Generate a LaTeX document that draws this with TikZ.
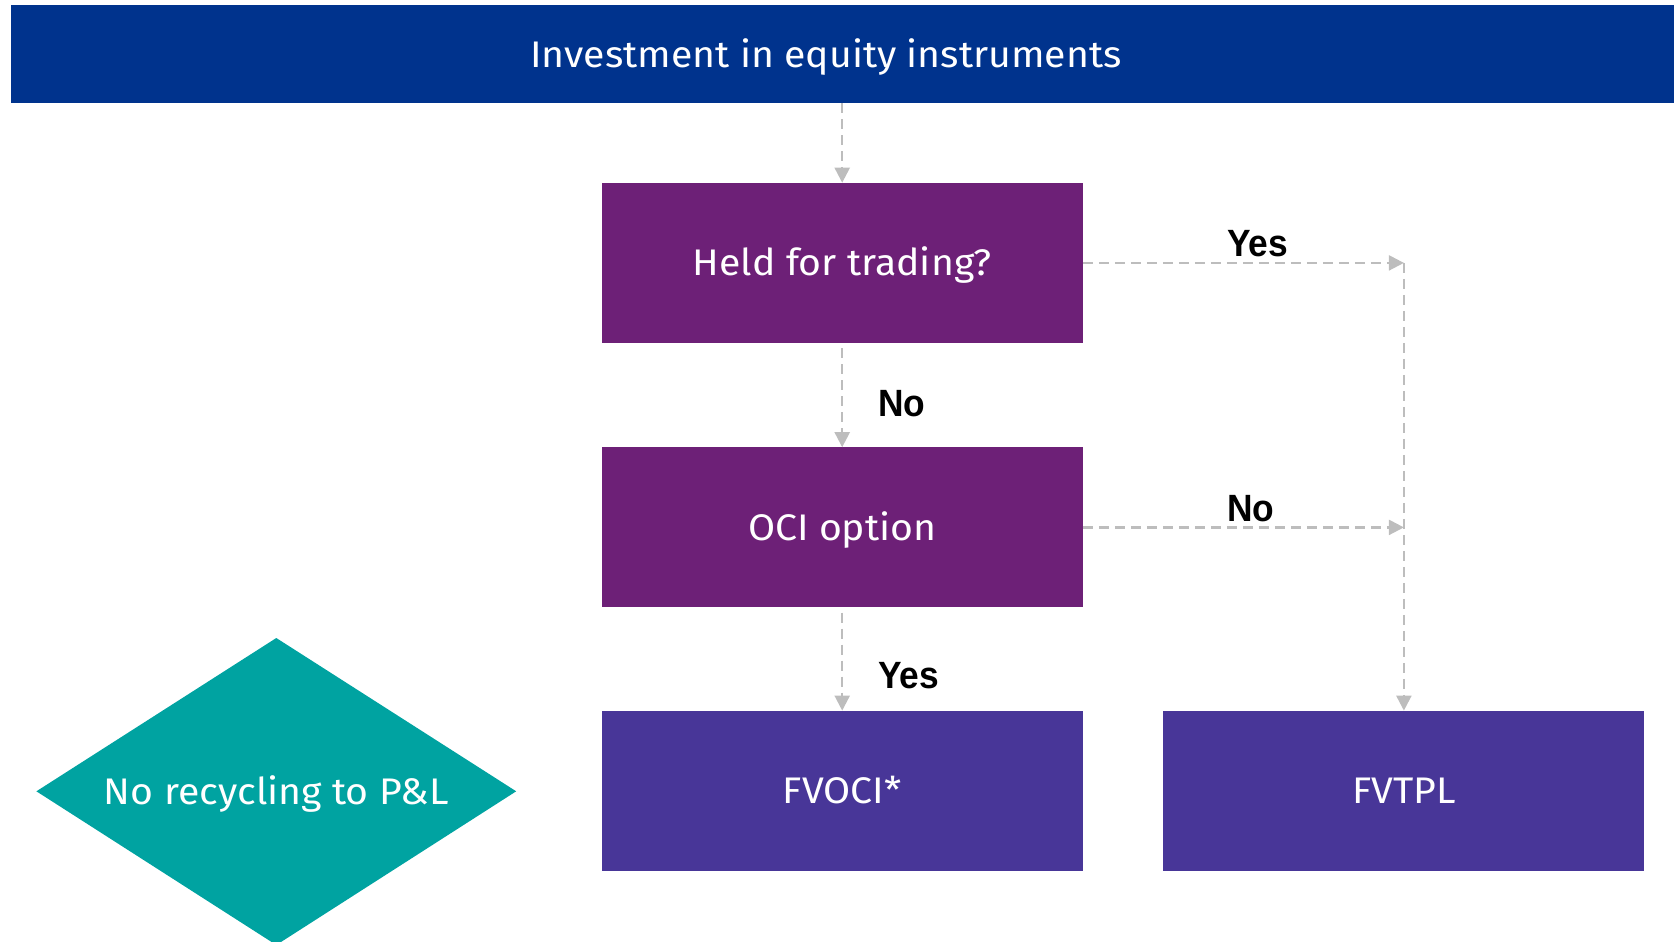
\documentclass[tikz,border=0pt]{standalone}
\usepackage{fontspec}
\setmainfont{Fira Sans}[FakeStretch=1.06]
\newfontfamily\tagfont[FakeStretch=0.93]{Liberation Sans}
\usetikzlibrary{arrows.meta}

\definecolor{bannerblue}{HTML}{00338D}
\definecolor{askpurple}{HTML}{6D2077}
\definecolor{resultviolet}{HTML}{483698}
\definecolor{noteteal}{HTML}{00A3A1}
\definecolor{flowgrey}{HTML}{BDBDBD}

\newcommand{\boxfont}{\fontsize{37}{42}\selectfont}
\newcommand{\answerfont}{\tagfont\bfseries\fontsize{38}{42}\selectfont}

\tikzset{
  stepbox/.style={rectangle, minimum width=481, minimum height=160, inner sep=0pt,
    text=white, font=\boxfont, text height=25.5pt, text depth=0pt},
  askbox/.style={stepbox, fill=askpurple},
  resultbox/.style={stepbox, fill=resultviolet},
  boxtext/.style={text=white, font=\boxfont, text height=25.5pt, text depth=0pt, inner sep=0pt},
  answer/.style={anchor=west, inner sep=0pt, font=\answerfont, text=black,
    text height=27pt, text depth=0pt},
  flow/.style={draw=flowgrey, line width=2.3pt, dash pattern=on 10pt off 6pt,
    -{Triangle[width=15pt,length=15pt,fill=flowgrey]}},
}

\begin{document}
\begin{tikzpicture}[x=1pt, y=-1pt]
  \useasboundingbox (0,0) rectangle (1679,942);
  \clip (0,0) rectangle (1679,942);

  % heading bar
  \node[rectangle, fill=bannerblue, minimum width=1663, minimum height=97.4,
        inner sep=0pt] (banner) at (842.2,54.1) {};
  \node[boxtext] (bannertext) at (826,54.6) {Investment in equity instruments};

  % decision and result boxes
  \node[askbox] (held) at (842.2,262.9) {Held for trading?};
  \node[askbox] (oci) at (842.2,527.4) {OCI option};
  \node[resultbox] (fvoci) at (842.2,790.8) {FVOCI*};
  \node[resultbox] (fvtpl) at (1403.9,790.8) {FVTPL};

  % side note
  \fill[noteteal] (36.4,791.3) -- (276.3,638) -- (516.2,791.3) -- (276.3,945) -- cycle;
  \node[boxtext] (recycle) at (276.3,791.3) {No recycling to P\&L};

  % junction points on the right-hand collector line
  \coordinate (joinyes) at (fvtpl.center |- held.east);
  \coordinate (joinno) at (fvtpl.center |- oci.east);

  % connectors
  \draw[flow] (banner.south) -- (held.north);
  \draw[flow, shorten <=5pt] (held.south) -- (oci.north);
  \draw[flow, shorten <=5pt] (oci.south) -- (fvoci.north);
  \draw[flow] (held.east) -- (joinyes);
  \draw[flow] (oci.east) -- (joinno);
  \draw[flow] (joinyes) -- (fvtpl.north);

  % answer labels
  \node[answer] (noheld) at (878,402.6) {No};
  \node[answer] (yesoci) at (878,674.6) {Yes};
  \node[answer] (yesheld) at (1227,243) {Yes};
  \node[answer] (nooci) at (1227,507.6) {No};
\end{tikzpicture}
\end{document}
